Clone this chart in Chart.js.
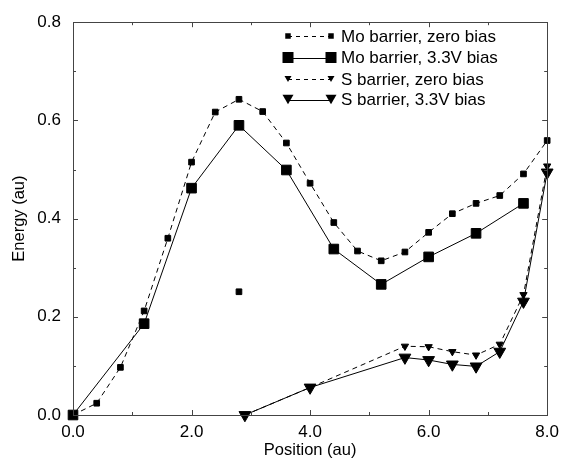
<!DOCTYPE html>
<html><head><meta charset="utf-8">
<script src="https://cdn.jsdelivr.net/npm/chart.js@4/dist/chart.umd.min.js"></script>
<style>html,body{margin:0;padding:0;background:#fff}</style>
</head><body>
<canvas id="c" width="566" height="461"></canvas>
<script>
// ---- data ----
const moZeroX = [0, 0.4, 0.8, 1.2, 1.6, 2.0, 2.4, 2.8, 3.2, 3.6, 4.0, 4.4, 4.8, 5.2, 5.6, 6.0, 6.4, 6.8, 7.2, 7.6, 8.0];
const moZeroY = [0, 0.024, 0.097, 0.212, 0.360, 0.515, 0.617, 0.643, 0.618, 0.554, 0.472, 0.392, 0.334, 0.314, 0.332, 0.372, 0.410, 0.431, 0.447, 0.491, 0.559];
const moBiasX = [0, 1.2, 2.0, 2.8, 3.6, 4.4, 5.2, 6.0, 6.8, 7.6];
const moBiasY = [0, 0.186, 0.462, 0.590, 0.499, 0.338, 0.266, 0.322, 0.370, 0.431];
const sZeroX = [2.9, 4.0, 5.6, 6.0, 6.4, 6.8, 7.2, 7.6, 8.0];
const sZeroY = [0.0, 0.056, 0.140, 0.139, 0.129, 0.122, 0.144, 0.245, 0.507];
const sBiasX = [2.9, 4.0, 5.6, 6.0, 6.4, 6.8, 7.2, 7.6, 8.0];
const sBiasY = [0.0, 0.056, 0.117, 0.112, 0.103, 0.099, 0.129, 0.231, 0.494];
const strayX = [2.8];
const strayY = [0.251];

const xTickValues = [0, 2, 4, 6, 8];
const xTickLabels = ['0.0', '2.0', '4.0', '6.0', '8.0'];
const xMinorValues = [1, 3, 5, 7];
const yTickValues = [0, 0.2, 0.4, 0.6, 0.8];
const yTickLabels = ['0.0', '0.2', '0.4', '0.6', '0.8'];
const yMinorValues = [0.1, 0.3, 0.5, 0.7];
const legendLabels = ['Mo barrier, zero bias', 'Mo barrier, 3.3V bias', 'S barrier, zero bias', 'S barrier, 3.3V bias'];
const xTitle = 'Position (au)';
const yTitle = 'Energy (au)';

const pts = (xs, ys) => xs.map((x, i) => ({x: x, y: ys[i]}));
const FONT = "'Liberation Sans', Arial, Helvetica, sans-serif";

const base = {borderColor: '#000', backgroundColor: '#000', pointBackgroundColor: '#000',
  pointBorderColor: '#000', pointBorderWidth: 1, borderWidth: 1, tension: 0, clip: false,
  pointHoverRadius: 0};

const datasets = [
  Object.assign({}, base, {label: legendLabels[0], data: pts(moZeroX, moZeroY), borderDash: [5, 4], pointStyle: 'rect', pointRadius: 4}),
  Object.assign({}, base, {label: legendLabels[1], data: pts(moBiasX, moBiasY), pointStyle: 'rect', pointRadius: 6.8}),
  Object.assign({}, base, {label: legendLabels[2], data: pts(sZeroX, sZeroY), borderDash: [5, 4], pointStyle: 'triangle', pointRotation: 180, pointRadius: 4.2}),
  Object.assign({}, base, {label: legendLabels[3], data: pts(sBiasX, sBiasY), pointStyle: 'triangle', pointRotation: 180, pointRadius: 6.8}),
  Object.assign({}, base, {label: 'stray', data: pts(strayX, strayY), showLine: false, pointStyle: 'rect', pointRadius: 4})
];

function drawMarker(ctx, kind, x, y, s) {
  ctx.beginPath();
  if (kind === 'rect') {
    ctx.rect(x - s / 2, y - s / 2, s, s);
  } else {
    const h = s * 0.87;
    ctx.moveTo(x - s / 2, y - h / 2);
    ctx.lineTo(x + s / 2, y - h / 2);
    ctx.lineTo(x, y + h / 2);
    ctx.closePath();
  }
  ctx.fill();
}

const framePlugin = {
  id: 'frame',
  afterDatasetsDraw(chart) {
    const ctx = chart.ctx, a = chart.chartArea;
    const xs = chart.scales.x, ys = chart.scales.y;
    ctx.save();
    ctx.strokeStyle = '#444';
    ctx.lineWidth = 1;
    ctx.strokeRect(Math.round(a.left) + 0.5, Math.round(a.top) + 0.5, Math.round(a.right - a.left), Math.round(a.bottom - a.top));
    ctx.beginPath();
    const xt = (v, len) => {
      const p = Math.round(xs.getPixelForValue(v)) + 0.5;
      ctx.moveTo(p, a.bottom); ctx.lineTo(p, a.bottom - len);
      ctx.moveTo(p, a.top); ctx.lineTo(p, a.top + len);
    };
    const yt = (v, len) => {
      const p = Math.round(ys.getPixelForValue(v)) + 0.5;
      ctx.moveTo(a.left, p); ctx.lineTo(a.left + len, p);
      ctx.moveTo(a.right, p); ctx.lineTo(a.right - len, p);
    };
    xTickValues.forEach(v => xt(v, 5));
    xMinorValues.forEach(v => xt(v, 3));
    yTickValues.forEach(v => yt(v, 5));
    yMinorValues.forEach(v => yt(v, 3));
    ctx.stroke();

    // legend
    const rows = [36, 57.5, 79, 99.5];
    const x1 = 288, x2 = 331, tx = 341;
    const specs = [
      {dash: [4, 4], kind: 'rect', s: 5.5},
      {dash: [], kind: 'rect', s: 11},
      {dash: [4, 4], kind: 'tri', s: 7},
      {dash: [], kind: 'tri', s: 11}
    ];
    ctx.fillStyle = '#000';
    ctx.strokeStyle = '#000';
    ctx.font = '17px ' + FONT;
    ctx.textBaseline = 'middle';
    ctx.textAlign = 'left';
    specs.forEach((sp, i) => {
      const y = rows[i];
      ctx.setLineDash(sp.dash);
      ctx.beginPath();
      ctx.moveTo(x1, Math.round(y) + 0.5); ctx.lineTo(x2, Math.round(y) + 0.5);
      ctx.stroke();
      ctx.setLineDash([]);
      drawMarker(ctx, sp.kind, x1, y, sp.s);
      drawMarker(ctx, sp.kind, x2, y, sp.s);
      ctx.fillText(legendLabels[i], tx, y + 1);
    });
    ctx.restore();
  }
};

new Chart(document.getElementById('c'), {
  type: 'line',
  data: {datasets: datasets},
  plugins: [framePlugin],
  options: {
    responsive: false,
    animation: false,
    devicePixelRatio: 1,
    layout: {padding: {top: 17, right: 13, left: 0, bottom: 0}},
    plugins: {legend: {display: false}, tooltip: {enabled: false}},
    events: [],
    scales: {
      x: {
        type: 'linear', min: 0, max: 8,
        grid: {display: false, drawTicks: false}, border: {display: false},
        afterBuildTicks: s => { s.ticks = xTickValues.map(v => ({value: v})); },
        afterFit: s => { s.height = 46; },
        ticks: {padding: 7, color: '#000', font: {family: FONT, size: 17},
          callback: (v, i) => xTickLabels[i]},
        title: {display: true, text: xTitle, color: '#000', font: {family: FONT, size: 16.5}, padding: {top: 0, bottom: 1}}
      },
      y: {
        type: 'linear', min: 0, max: 0.8,
        grid: {display: false, drawTicks: false}, border: {display: false},
        afterBuildTicks: s => { s.ticks = yTickValues.map(v => ({value: v})); },
        afterFit: s => { s.width = 73; },
        ticks: {padding: 12, color: '#000', font: {family: FONT, size: 17},
          callback: (v, i) => yTickLabels[i]},
        title: {display: true, text: yTitle, color: '#000', font: {family: FONT, size: 16.5}, padding: {top: 10, bottom: 0}}
      }
    }
  }
});
</script>
</body></html>
